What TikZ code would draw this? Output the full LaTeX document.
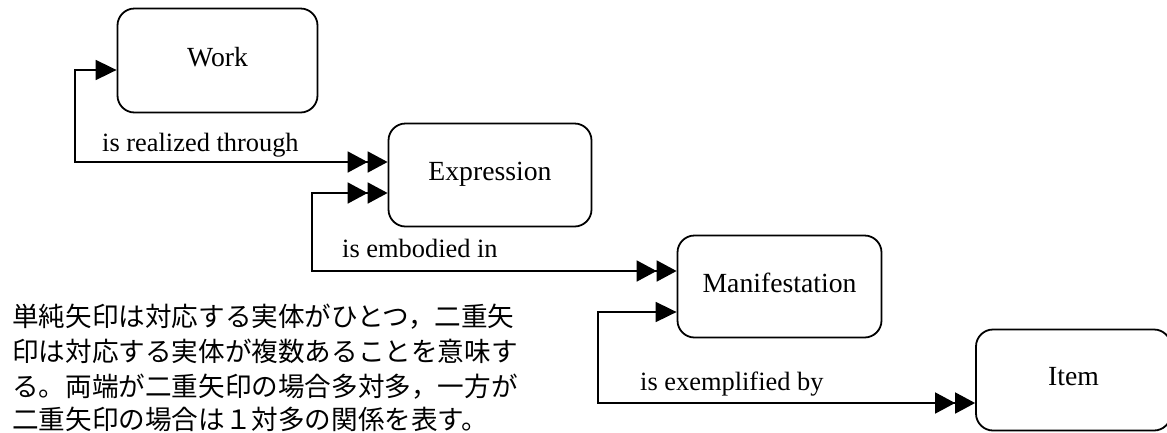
\documentclass[tikz,border=0pt]{standalone}
\usepackage{fontspec}
\setmainfont{Liberation Serif}
\newfontfamily\jpfont{Noto Sans CJK JP}
\usetikzlibrary{arrows.meta}
\begin{document}
\begin{tikzpicture}[x=1pt,y=-1pt,
  entity/.style={draw, line width=1.8pt, rounded corners=17pt, inner sep=0pt,
    font=\fontsize{27.7}{30}\selectfont, text height=18.3pt, text depth=6.9pt},
  rel/.style={line width=1.8pt},
  lbl/.style={anchor=base west, inner sep=0pt, font=\fontsize{26.4}{30}\selectfont},
  jp/.style={anchor=base west, inner sep=0pt, font=\jpfont\fontsize{26.6}{30}\selectfont},
  onetip/.tip={Triangle[length=21pt,width=20pt]},
  manytip/.tip={Triangle[length=20pt,width=21pt] Triangle[length=20pt,width=21pt]}]
\useasboundingbox (0,0) rectangle (1167,432);

\node[entity, minimum width=200pt, minimum height=104pt] (work) at (217.5,60.5) {Work};
\node[entity, minimum width=203pt, minimum height=103pt] (expr) at (490,175) {Expression};
\node[entity, minimum width=204pt, minimum height=102pt] (manif) at (779.5,286.5) {Manifestation};
\node[entity, minimum width=195pt, minimum height=101pt] (item) at (1073.5,380) {Item};

\path (work.west) ++(0,9.5) coordinate (w-in);
\path (expr.west) ++(0,-13) coordinate (e-in1);
\path (expr.west) ++(0,18) coordinate (e-in2);
\path (manif.west) ++(0,-15.5) coordinate (m-in1);
\path (manif.west) ++(0,25.5) coordinate (m-in2);
\path (item.west) ++(0,23) coordinate (i-in);
\coordinate (b1) at (75,0);
\coordinate (b2) at (312,0);
\coordinate (b3) at (598,0);

\draw[rel, {onetip}-{manytip}] (w-in) -| (b1 |- e-in1) -- (e-in1);
\draw[rel, {manytip}-{manytip}] (e-in2) -| (b2 |- m-in1) -- (m-in1);
\draw[rel, {onetip}-{manytip}] (m-in2) -| (b3 |- i-in) -- (i-in);

\node[lbl] (l1) at (102,151) {is realized through};
\node[lbl] (l2) at (342,257) {is embodied in};
\node[lbl] (l3) at (640,390) {is exemplified by};

\node[jp] (jp1) at (12,326) {単純矢印は対応する実体がひとつ，二重矢};
\node[jp] (jp2) at (12,361) {印は対応する実体が複数あることを意味す};
\node[jp] (jp3) at (12,396) {る。両端が二重矢印の場合多対多，一方が};
\node[jp] (jp4) at (12,429) {二重矢印の場合は１対多の関係を表す。};
\end{tikzpicture}
\end{document}
